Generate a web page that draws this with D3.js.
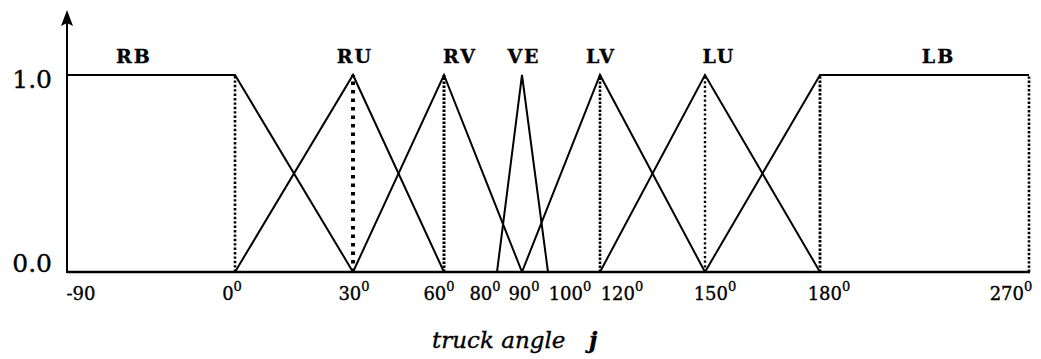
<!DOCTYPE html>
<html>
<head>
<meta charset="utf-8">
<script src="https://cdn.jsdelivr.net/npm/d3@7/dist/d3.min.js"></script>
<style>
  html, body { margin: 0; padding: 0; background: #fff; }
  svg { display: block; }
  text { font-family: "DejaVu Serif", serif; fill: #000; stroke: #000; stroke-width: 0.35px; }
</style>
</head>
<body>
<svg id="chart" width="1041" height="359"></svg>
<script>
// Angle breakpoints shown on the horizontal axis (degrees)
const angleTicks = [-90, 0, 30, 60, 80, 90, 100, 120, 150, 180, 270];
const angleTickLabels = ["-90", "0", "30", "60", "80", "90", "100", "120", "150", "180", "270"];
const angleTickDegree = [false, true, true, true, true, true, true, true, true, true, true];

// Fuzzy sets for the truck angle: name and membership breakpoints [angle, degree]
const setNames = ["RB", "RU", "RV", "VE", "LV", "LU", "LB"];
const setAnchors = [-45, 30, 60, 90, 120, 150, 225];
const setPoints = [
  [[-90, 1], [0, 1], [30, 0]],
  [[0, 0], [30, 1], [60, 0]],
  [[30, 0], [60, 1], [90, 0]],
  [[80, 0], [90, 1], [100, 0]],
  [[90, 0], [120, 1], [150, 0]],
  [[120, 0], [150, 1], [180, 0]],
  [[150, 0], [180, 1], [270, 1]]
];

// Vertical guides dropped from the peaks to the axis
const guideAngles = [0, 30, 60, 120, 150, 180, 270];

// Membership axis
const memberTicks = [0, 1];
const memberTickLabels = ["0.0", "1.0"];

const axisTitle = "truck angle";
const axisSymbol = "j";

// ---- layout ----
const svg = d3.select("#chart");
const axisX = 67, baseY = 272, topY = 75, arrowTipY = 10;

// The angle axis is drawn piecewise: each breakpoint has its own position
const tickPixels = [67, 235, 353, 444, 497, 522, 548, 600, 705, 820, 1029];
const x = d3.scaleLinear().domain(angleTicks).range(tickPixels);
const y = d3.scaleLinear().domain([0, 1]).range([baseY, topY]);

const tickLabelDx = [14, -3, 1, -5, -12, 2, 22, 22, 10, 9, -18];
const setLabelDx = [-17, 2, 16, 2, 1, 14, 14];
const memberLabelDy = [0, 13];

// Guides (dotted), styles vary per guide
const guideStyles = {
  0:   { w: 2.6, dash: "2.4,2" },
  30:  { w: 4,   dash: "3.5,5" },
  60:  { w: 3,   dash: "2.6,1.4" },
  120: { w: 2.6, dash: "2.4,1.6" },
  150: { w: 2.4, dash: "2.2,2.4" },
  180: { w: 2.8, dash: "2.6,1.6" },
  270: { w: 2.6, dash: "2.4,1.8" }
};
svg.append("g").selectAll("line")
  .data(guideAngles)
  .join("line")
  .attr("x1", d => x(d)).attr("x2", d => x(d))
  .attr("y1", y(0)).attr("y2", y(1))
  .attr("stroke", "#000")
  .attr("stroke-width", d => guideStyles[d].w)
  .attr("stroke-dasharray", d => guideStyles[d].dash);

// Membership functions
const line = d3.line().x(d => x(d[0])).y(d => y(d[1]));
svg.append("g").selectAll("path")
  .data(setPoints)
  .join("path")
  .attr("d", line)
  .attr("fill", "none")
  .attr("stroke", "#000")
  .attr("stroke-width", 2)
  .attr("stroke-linejoin", "miter");

// Set names
svg.append("g").selectAll("text")
  .data(setNames)
  .join("text")
  .attr("x", (d, i) => x(setAnchors[i]) + setLabelDx[i])
  .attr("y", 63)
  .attr("text-anchor", "middle")
  .attr("font-size", 19)
  .attr("font-weight", "bold")
  .attr("letter-spacing", 2)
  .text(d => d);

// Horizontal axis line
svg.append("line")
  .attr("x1", axisX).attr("x2", x(270) + 1)
  .attr("y1", baseY).attr("y2", baseY)
  .attr("stroke", "#000").attr("stroke-width", 2.4);

// Vertical axis with arrow
svg.append("line")
  .attr("x1", axisX).attr("x2", axisX)
  .attr("y1", baseY + 1).attr("y2", arrowTipY + 12)
  .attr("stroke", "#000").attr("stroke-width", 2);
svg.append("path")
  .attr("d", `M${axisX},${arrowTipY} L${axisX - 6},${arrowTipY + 16} L${axisX},${arrowTipY + 13} L${axisX + 6},${arrowTipY + 16} Z`)
  .attr("fill", "#000");

// Angle tick labels
const tl = svg.append("g").selectAll("text")
  .data(angleTicks)
  .join("text")
  .attr("x", (d, i) => x(d) + tickLabelDx[i])
  .attr("y", 300)
  .attr("text-anchor", "middle")
  .attr("font-size", 18);
tl.append("tspan").text((d, i) => angleTickLabels[i]);
tl.filter((d, i) => angleTickDegree[i])
  .append("tspan")
  .attr("dy", -9)
  .attr("font-size", 13)
  .text("0");

// Membership tick labels
svg.append("g").selectAll("text")
  .data(memberTicks)
  .join("text")
  .attr("x", 52)
  .attr("y", (d, i) => y(d) + memberLabelDy[i])
  .attr("text-anchor", "end")
  .attr("font-size", 25)
  .text((d, i) => memberTickLabels[i]);

// Axis title
const title = svg.append("text")
  .attr("x", 432)
  .attr("y", 348)
  .attr("font-size", 23)
  .attr("font-style", "italic");
title.append("tspan").text(axisTitle);
title.append("tspan").attr("x", 589).attr("font-weight", "bold").text(axisSymbol);
</script>
</body>
</html>
